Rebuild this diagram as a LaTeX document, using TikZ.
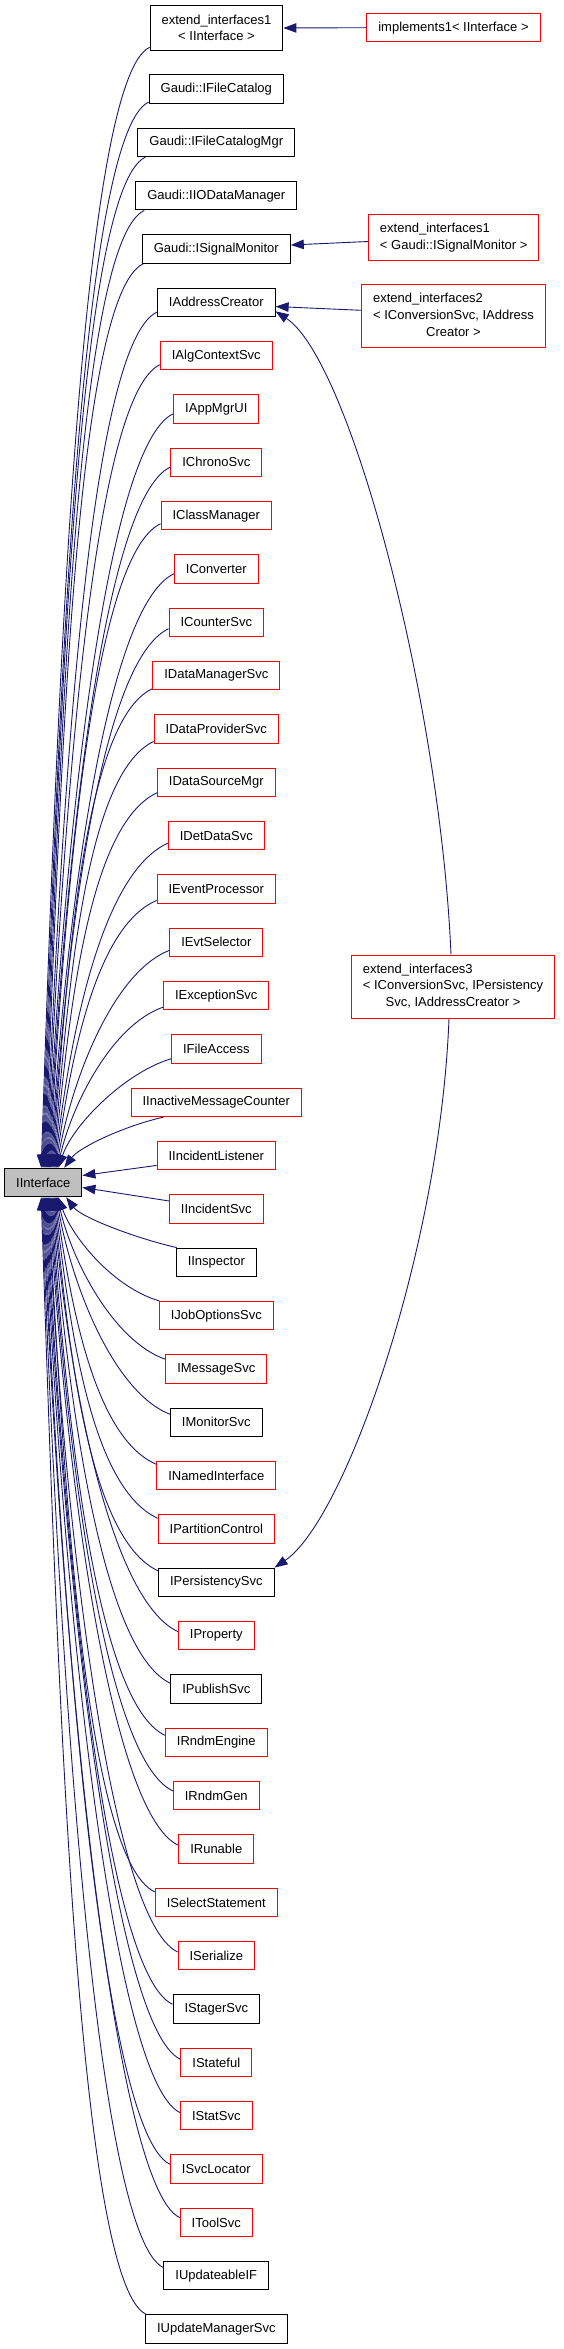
\documentclass[tikz,border=0pt]{standalone}
\usepackage{fontspec}
\setmainfont{Liberation Sans}
\usetikzlibrary{arrows.meta,calc}
\definecolor{edgeblue}{HTML}{191970}
\definecolor{nodegray}{HTML}{BFBFBF}
\tikzset{
  box/.style={draw, line width=1pt, fill=white, inner xsep=11.5pt, inner ysep=3pt,
    minimum height=28.5pt, font=\fontsize{13}{16.7}\selectfont, text=black},
  blk/.style={box, draw=black},
  redb/.style={box, draw=red},
  root/.style={box, draw=black, fill=nodegray},
  twoline/.style={minimum height=45.7pt},
  threeline/.style={minimum height=63pt},
  edge/.style={draw=edgeblue, line width=0.9pt, -{Triangle[length=13pt,width=9.5pt]}},
}
\newcommand\upedge[2]{%
  \draw[edge] let \p1=($#1$), \p2=($(II.north west)+(#2,0)$),
    \n1={\y1-\y2}, \n2={min(70,35+0.1*\n1)}, \n3={min(33,5+0.08*\n1)}, \n4={0.4*\n1} in
    (\p1) .. controls (\x1-\n2,\y1-\n3) and (\x2+15,\y2+\n4) .. (\p2);}
\newcommand\downedge[2]{%
  \draw[edge] let \p1=($#1$), \p2=($(II.south west)+(#2,0)$),
    \n1={\y2-\y1}, \n2={min(70,35+0.1*\n1)}, \n3={min(33,5+0.08*\n1)}, \n4={0.4*\n1} in
    (\p1) .. controls (\x1-\n2,\y1+\n3) and (\x2+15,\y2-\n4) .. (\p2);}
\begin{document}
\begin{tikzpicture}[x=1pt,y=1pt]
\useasboundingbox (0,0) rectangle (563,-2349);
% root
\node[root] (II) at (43.3,-1182.5) {IInterface};
% column
\node[blk,twoline,align=center] (ext1) at (216.5,-28) {extend\_interfaces1\\< IInterface >};
\node[blk] (fc) at (216.3,-89) {Gaudi::IFileCatalog};
\node[blk] (fcm) at (216.3,-142.33) {Gaudi::IFileCatalogMgr};
\node[blk] (iodm) at (216.3,-195.67) {Gaudi::IIODataManager};
\node[blk] (sigmon) at (216.3,-249) {Gaudi::ISignalMonitor};
\node[blk] (addr) at (216.3,-302.33) {IAddressCreator};
\node[redb] (algctx) at (216.3,-355.67) {IAlgContextSvc};
\node[redb] (appmgr) at (216.3,-409) {IAppMgrUI};
\node[redb] (chrono) at (216.3,-462.33) {IChronoSvc};
\node[redb] (classmgr) at (216.3,-515.67) {IClassManager};
\node[redb] (conv) at (216.3,-569) {IConverter};
\node[redb] (counter) at (216.3,-622.33) {ICounterSvc};
\node[redb] (datamgr) at (216.3,-675.67) {IDataManagerSvc};
\node[redb] (dataprov) at (216.3,-729) {IDataProviderSvc};
\node[redb] (datasrc) at (216.3,-782.33) {IDataSourceMgr};
\node[redb] (detdata) at (216.3,-835.67) {IDetDataSvc};
\node[redb] (evtproc) at (216.3,-889) {IEventProcessor};
\node[redb] (evtsel) at (216.3,-942.33) {IEvtSelector};
\node[redb] (except) at (216.3,-995.67) {IExceptionSvc};
\node[redb] (fileacc) at (216.3,-1049) {IFileAccess};
\node[redb] (inactive) at (216.3,-1102.33) {IInactiveMessageCounter};
\node[redb] (incl) at (216.3,-1155.67) {IIncidentListener};
\node[redb] (incs) at (216.3,-1209) {IIncidentSvc};
\node[blk] (insp) at (216.3,-1262.33) {IInspector};
\node[redb] (jobopt) at (216.3,-1315.67) {IJobOptionsSvc};
\node[redb] (msg) at (216.3,-1369) {IMessageSvc};
\node[blk] (monitor) at (216.3,-1422.33) {IMonitorSvc};
\node[redb] (named) at (216.3,-1475.67) {INamedInterface};
\node[redb] (partition) at (216.3,-1529) {IPartitionControl};
\node[blk] (persist) at (216.3,-1582.33) {IPersistencySvc};
\node[redb] (property) at (216.3,-1635.67) {IProperty};
\node[blk] (publish) at (216.3,-1689) {IPublishSvc};
\node[redb] (rndmeng) at (216.3,-1742.33) {IRndmEngine};
\node[redb] (rndmgen) at (216.3,-1795.67) {IRndmGen};
\node[redb] (runable) at (216.3,-1849) {IRunable};
\node[redb] (select) at (216.3,-1902.33) {ISelectStatement};
\node[redb] (serialize) at (216.3,-1955.67) {ISerialize};
\node[blk] (stager) at (216.3,-2009) {IStagerSvc};
\node[redb] (stateful) at (216.3,-2062.33) {IStateful};
\node[redb] (statsvc) at (216.3,-2115.67) {IStatSvc};
\node[redb] (svcloc) at (216.3,-2169) {ISvcLocator};
\node[redb] (toolsvc) at (216.3,-2222.33) {IToolSvc};
\node[blk] (updif) at (216.3,-2275.67) {IUpdateableIF};
\node[blk] (updmgr) at (216.3,-2329) {IUpdateManagerSvc};
% right column
\node[redb] (impl) at (453.5,-27.7) {implements1< IInterface >};
\node[redb,twoline] (ext1sm) at (453.7,-237.5) {\begin{tabular}{@{}l@{}}extend\_interfaces1\\< Gaudi::ISignalMonitor >\end{tabular}};
\node[redb,threeline] (ext2) at (453.5,-316) {\begin{tabular}{@{}l@{}}extend\_interfaces2\\< IConversionSvc, IAddress\\\multicolumn{1}{@{}c@{}}{Creator >}\end{tabular}};
\node[redb,threeline] (ext3) at (453,-986.5) {\begin{tabular}{@{}l@{}}extend\_interfaces3\\< IConversionSvc, IPersistency\\\multicolumn{1}{@{}c@{}}{Svc, IAddressCreator >}\end{tabular}};
% right-side edges
\draw[edge] (impl.west) -- (ext1.east);
\draw[edge] ($(ext1sm.west)+(0,-4)$) -- ($(sigmon.east)+(0,4)$);
\draw[edge] ($(ext2.west)+(0,5.7)$) -- ($(addr.east)+(0,-4.2)$);
\draw[edge] ($(ext3.north)+(-2,0)$) .. controls (440,-700) and (350,-360) .. ($(addr.east)+(0,-9)$);
\draw[edge] ($(ext3.south)+(-4,0)$) .. controls (440,-1250) and (345,-1520) .. (persist.north east);
% upper edges
\upedge{(ext1.south west)+(0,4)}{37}
\upedge{(fc.south west)+(0,1.7)}{37.9}
\upedge{(fcm.south west)+(8,0)}{38.8}
\upedge{(iodm.south west)+(9,0)}{39.7}
\upedge{(sigmon.south west)+(1.5,0)}{40.6}
\upedge{(addr.south west)+(0,5)}{41.5}
\upedge{(algctx.south west)+(0,5.7)}{42.4}
\upedge{(appmgr.south west)+(0,10)}{43.3}
\upedge{(chrono.south west)+(0,10)}{44.2}
\upedge{(classmgr.south west)+(0,6.7)}{45.1}
\upedge{(conv.south west)+(0,10)}{46}
\upedge{(counter.south west)+(0,8.3)}{46.9}
\upedge{(datamgr.south west)+(0,1.7)}{47.8}
\upedge{(dataprov.south west)+(0,2.3)}{48.7}
\upedge{(datasrc.south west)+(0,4.3)}{49.6}
\upedge{(detdata.south west)+(0,7.3)}{50.5}
\upedge{(evtproc.south west)+(0,3.3)}{51.4}
\upedge{(evtsel.south west)+(0,6.7)}{52.3}
\upedge{(except.south west)+(0,3.3)}{53.2}
\upedge{(fileacc.south west)+(0,5)}{54.1}
\upedge{(inactive.south west)+(33,0)}{60}
% side edges
\draw[edge] ($(incl.south west)+(0,5)$) -- ($(II.east)+(0,7)$);
\draw[edge] ($(incs.north west)+(0,-6.7)$) -- ($(II.east)+(0,-5)$);
% lower edges
\downedge{(insp.north west)+(1,0)}{62}
\downedge{(jobopt.north west)+(0.5,0)}{54}
\downedge{(msg.north west)+(0,-5)}{53.1}
\downedge{(monitor.north west)+(0,-6.7)}{52.2}
\downedge{(named.north west)+(0,-3.3)}{51.3}
\downedge{(partition.north west)+(0,-4)}{50.4}
\downedge{(persist.north west)+(0,-3.3)}{49.5}
\downedge{(property.north west)+(0,-10.7)}{48.6}
\downedge{(publish.north west)+(0,-9)}{47.7}
\downedge{(rndmeng.north west)+(0,-7.7)}{46.8}
\downedge{(rndmgen.north west)+(0,-10)}{45.9}
\downedge{(runable.north west)+(0,-11)}{45}
\downedge{(select.north west)+(0,-4.3)}{44.1}
\downedge{(serialize.north west)+(0,-11)}{43.2}
\downedge{(stager.north west)+(0,-10)}{42.3}
\downedge{(stateful.north west)+(0,-11.7)}{41.4}
\downedge{(statsvc.north west)+(0,-11.7)}{40.5}
\downedge{(svcloc.north west)+(0,-10)}{39.6}
\downedge{(toolsvc.north west)+(0,-10)}{38.7}
\downedge{(updif.north west)+(0,-6.7)}{37.8}
\downedge{(updmgr.north west)+(1,0)}{37}
\end{tikzpicture}
\end{document}
